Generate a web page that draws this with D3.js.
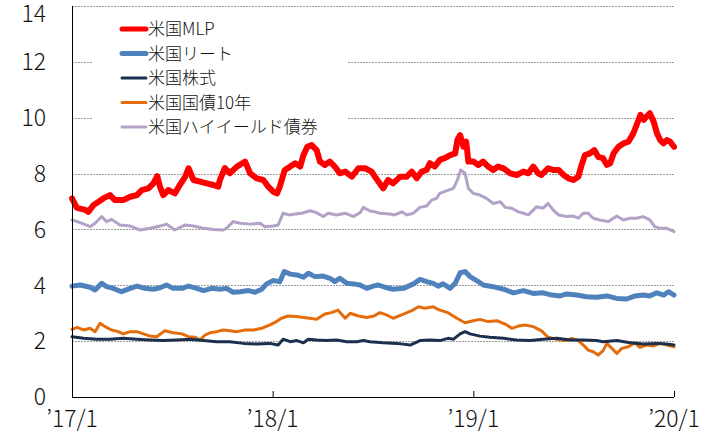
<!DOCTYPE html>
<html><head><meta charset="utf-8">
<script src="https://cdn.jsdelivr.net/npm/d3@7"></script>
<style>
html,body{margin:0;padding:0;background:#fff;}
svg{display:block;}
text{font-family:"Noto Sans CJK JP","Noto Sans",sans-serif;font-weight:300;}
</style></head>
<body><svg id="c" width="720" height="434"></svg>
<script>
// Series: [days since 2017-01-01, value]
const mlp = [[0,7.11],[9,6.77],[24,6.70],[30,6.63],[39,6.87],[57,7.11],[69,7.23],[78,7.05],[93,7.05],[106,7.17],[118,7.23],[127,7.41],[139,7.47],[148,7.65],[155,7.91],[160,7.53],[166,7.23],[175,7.41],[187,7.29],[196,7.59],[206,7.89],[212,8.19],[221,7.77],[233,7.71],[245,7.65],[257,7.59],[266,7.53],[269,7.77],[278,8.20],[287,8.01],[300,8.25],[315,8.43],[324,8.01],[336,7.83],[348,7.77],[357,7.53],[366,7.35],[373,7.29],[378,7.53],[387,8.13],[397,8.25],[406,8.37],[415,8.25],[421,8.66],[428,8.96],[436,9.02],[445,8.84],[451,8.43],[460,8.31],[469,8.43],[478,8.25],[487,8.01],[497,8.07],[509,7.89],[521,8.19],[533,8.19],[545,8.07],[553,7.83],[566,7.47],[575,7.77],[584,7.65],[597,7.89],[609,7.89],[618,8.07],[627,7.83],[636,8.07],[645,8.13],[651,8.37],[660,8.25],[669,8.49],[678,8.55],[688,8.66],[697,8.72],[701,9.20],[706,9.38],[712,8.96],[717,9.14],[721,8.43],[730,8.43],[739,8.31],[748,8.43],[757,8.25],[766,8.13],[775,8.25],[785,8.19],[797,8.01],[809,7.95],[821,8.07],[830,8.01],[839,8.25],[848,8.01],[854,7.95],[866,8.19],[875,8.13],[885,8.13],[894,7.95],[903,7.83],[912,7.77],[921,7.89],[927,8.31],[933,8.66],[942,8.72],[950,8.84],[957,8.60],[966,8.55],[973,8.31],[979,8.37],[985,8.72],[994,8.96],[1003,9.08],[1012,9.14],[1021,9.44],[1027,9.74],[1034,10.10],[1040,9.92],[1045,10.04],[1051,10.16],[1058,9.86],[1064,9.44],[1070,9.20],[1076,9.08],[1082,9.20],[1088,9.14],[1095,8.96]];
const reit = [[0,3.97],[15,4.01],[33,3.93],[42,3.83],[54,4.07],[63,3.95],[75,3.89],[90,3.77],[106,3.89],[118,3.97],[133,3.89],[148,3.86],[160,3.91],[172,4.01],[184,3.89],[200,3.89],[212,3.97],[227,3.89],[239,3.81],[254,3.89],[269,3.86],[281,3.89],[293,3.75],[306,3.77],[321,3.81],[333,3.75],[345,3.86],[354,4.05],[366,4.17],[378,4.13],[386,4.49],[397,4.40],[409,4.37],[421,4.29],[430,4.43],[442,4.31],[457,4.33],[469,4.25],[478,4.13],[487,4.25],[500,4.07],[512,4.05],[524,4.01],[536,3.89],[548,3.97],[557,4.01],[569,3.93],[584,3.86],[603,3.89],[621,4.05],[633,4.21],[645,4.13],[657,4.07],[666,3.97],[675,4.05],[688,3.89],[697,4.07],[706,4.45],[715,4.49],[724,4.31],[736,4.17],[748,4.01],[766,3.95],[785,3.86],[803,3.73],[821,3.81],[839,3.71],[857,3.73],[873,3.65],[888,3.62],[900,3.69],[918,3.65],[936,3.59],[954,3.57],[973,3.62],[991,3.53],[1009,3.51],[1024,3.62],[1039,3.65],[1051,3.62],[1064,3.73],[1076,3.65],[1085,3.77],[1095,3.65]];
const stock = [[0,2.16],[21,2.10],[45,2.07],[69,2.07],[93,2.10],[118,2.07],[142,2.04],[166,2.02],[190,2.04],[215,2.07],[239,2.02],[263,1.98],[287,1.98],[312,1.92],[336,1.90],[360,1.92],[375,1.86],[384,2.07],[397,1.98],[409,2.02],[421,1.94],[430,2.07],[445,2.04],[463,2.02],[481,2.04],[500,1.98],[518,1.98],[530,2.02],[542,1.98],[566,1.94],[591,1.92],[615,1.86],[633,2.02],[651,2.04],[669,2.02],[684,2.10],[694,2.07],[706,2.26],[715,2.34],[724,2.26],[742,2.18],[760,2.14],[785,2.10],[809,2.04],[833,2.02],[857,2.07],[882,2.10],[906,2.04],[930,2.04],[954,2.02],[966,1.98],[991,2.02],[1015,1.94],[1039,1.90],[1064,1.92],[1082,1.90],[1095,1.86]];
const bond = [[0,2.42],[9,2.49],[21,2.40],[33,2.46],[42,2.34],[51,2.64],[60,2.52],[72,2.40],[84,2.34],[93,2.26],[106,2.34],[118,2.34],[130,2.26],[142,2.18],[154,2.16],[169,2.37],[184,2.30],[200,2.26],[212,2.16],[224,2.14],[233,2.04],[242,2.22],[251,2.30],[263,2.34],[275,2.40],[287,2.37],[300,2.34],[315,2.40],[330,2.40],[345,2.46],[360,2.58],[372,2.70],[381,2.82],[393,2.90],[409,2.88],[421,2.85],[433,2.82],[445,2.78],[460,2.97],[472,3.02],[484,3.11],[497,2.82],[506,3.00],[521,2.90],[536,2.85],[549,2.90],[560,3.02],[572,2.94],[584,2.82],[603,2.97],[618,3.09],[630,3.23],[642,3.18],[657,3.23],[669,3.11],[684,3.02],[700,2.82],[715,2.66],[730,2.73],[742,2.78],[757,2.70],[773,2.73],[788,2.61],[800,2.46],[812,2.54],[824,2.58],[839,2.52],[854,2.37],[866,2.14],[882,2.07],[897,2.02],[909,2.10],[921,2.02],[930,1.86],[939,1.68],[948,1.62],[957,1.50],[966,1.66],[973,1.92],[982,1.74],[991,1.56],[1000,1.74],[1012,1.80],[1024,1.94],[1033,1.78],[1045,1.86],[1058,1.83],[1070,1.92],[1082,1.86],[1095,1.80]];
const hy = [[0,6.34],[15,6.24],[33,6.10],[42,6.22],[54,6.46],[63,6.28],[72,6.36],[87,6.16],[106,6.12],[124,5.98],[142,6.04],[160,6.12],[172,6.19],[187,5.98],[206,6.16],[221,6.12],[239,6.04],[257,6.00],[275,5.98],[281,6.04],[293,6.28],[306,6.22],[324,6.19],[342,6.22],[351,6.10],[366,6.12],[375,6.16],[384,6.58],[394,6.52],[406,6.55],[418,6.58],[433,6.67],[445,6.60],[457,6.46],[466,6.58],[481,6.52],[497,6.58],[512,6.46],[524,6.60],[530,6.79],[542,6.66],[551,6.63],[560,6.58],[578,6.55],[587,6.52],[600,6.63],[609,6.52],[621,6.58],[633,6.79],[645,6.84],[654,7.05],[663,7.11],[669,7.29],[682,7.39],[694,7.47],[701,7.77],[707,8.13],[715,8.01],[721,7.47],[730,7.29],[742,7.23],[754,7.11],[766,6.93],[779,6.99],[788,6.79],[800,6.76],[812,6.63],[821,6.58],[830,6.52],[845,6.81],[857,6.76],[866,6.93],[875,6.70],[885,6.52],[900,6.46],[912,6.48],[921,6.40],[930,6.58],[939,6.58],[948,6.40],[960,6.34],[976,6.28],[991,6.48],[1003,6.34],[1015,6.40],[1027,6.40],[1039,6.46],[1051,6.34],[1060,6.10],[1070,6.04],[1082,6.04],[1095,5.92]];

const seriesNames = ["米国MLP","米国リート","米国株式","米国国債10年","米国ハイイールド債券"];
const yTicks = [0,2,4,6,8,10,12,14];
const xTickLabels = ["’17/1","’18/1","’19/1","’20/1"];
const xTickDates = ["2017-01-01","2018-01-01","2019-01-01","2020-01-01"];

const start = new Date(2017,0,1);
const toDate = d => d3.timeDay.offset(start, d);

const svg = d3.select("#c");
const L = 72, R = 674, T = 6, B = 397;
const x = d3.scaleTime().domain([new Date(2017,0,1), new Date(2020,0,1)]).range([L, R]);
const y = d3.scaleLinear().domain([0,14]).range([B, T]);

// gridlines
svg.append("g").selectAll("line").data(yTicks.filter(v=>v>0)).join("line")
  .attr("x1", L).attr("x2", R)
  .attr("y1", d=>Math.round(y(d))+0.5).attr("y2", d=>Math.round(y(d))+0.5)
  .attr("stroke", "#9a9a9a").attr("stroke-width", 1).attr("stroke-dasharray", "2,1");

// y labels
svg.append("g").selectAll("text").data(yTicks).join("text")
  .attr("x", 46).attr("y", d=>Math.max(y(d), 14)).attr("dy", "0.36em")
  .attr("text-anchor", "end").attr("font-size", 23).attr("fill", "#111")
  .text(d=>d);

const styles = [
  {data: hy, color: "#b3a2c7", w: 3},
  {data: bond, color: "#e46c0a", w: 3},
  {data: stock, color: "#1b2f4e", w: 3},
  {data: reit, color: "#4f81bd", w: 5},
  {data: mlp, color: "#ff0000", w: 6}
];
const line = d3.line().x(d=>x(toDate(d[0]))).y(d=>y(d[1])).curve(d3.curveLinear);
styles.forEach(s => {
  svg.append("path").datum(s.data).attr("d", line)
    .attr("fill", "none").attr("stroke", s.color).attr("stroke-width", s.w)
    .attr("stroke-linejoin", "round").attr("stroke-linecap", "round");
});

// axes
const xAxis = d3.axisBottom(x).tickValues(xTickDates.map(s=>new Date(s+"T00:00:00"))).tickSize(-6).tickFormat("");
const gx = svg.append("g").attr("transform", `translate(0,${B})`).call(xAxis);
gx.select(".domain").attr("stroke", "#000").attr("d", `M${L},0.5H${R}`);
gx.selectAll(".tick line").attr("stroke", "#000");
svg.append("line").attr("x1", L+0.5).attr("x2", L+0.5).attr("y1", T).attr("y2", B+0.5).attr("stroke", "#000");

svg.append("g").selectAll("text").data(xTickLabels).join("text")
  .attr("x", (d,i)=>Math.min(x(new Date(xTickDates[i]+"T00:00:00")), 688))
  .attr("y", 427).attr("text-anchor", "middle").attr("font-size", 23).attr("fill", "#111")
  .text(d=>d);

// legend
const lg = svg.append("g");
lg.append("rect").attr("x", 92).attr("y", 16).attr("width", 256).attr("height", 124).attr("fill", "#fff");
const legStyles = [
  {c:"#ff0000", w:5}, {c:"#4f81bd", w:5}, {c:"#1b2f4e", w:3}, {c:"#e46c0a", w:3}, {c:"#b3a2c7", w:3}
];
seriesNames.forEach((n,i) => {
  const yy = 29 + i*24.5;
  lg.append("line").attr("x1", 122).attr("x2", 146).attr("y1", yy).attr("y2", yy)
    .attr("stroke", legStyles[i].c).attr("stroke-width", legStyles[i].w).attr("stroke-linecap","round");
  lg.append("text").attr("x", 148).attr("y", yy).attr("dy", "0.36em")
    .attr("font-size", 17).attr("fill", "#111").text(n);
});
</script></body></html>
